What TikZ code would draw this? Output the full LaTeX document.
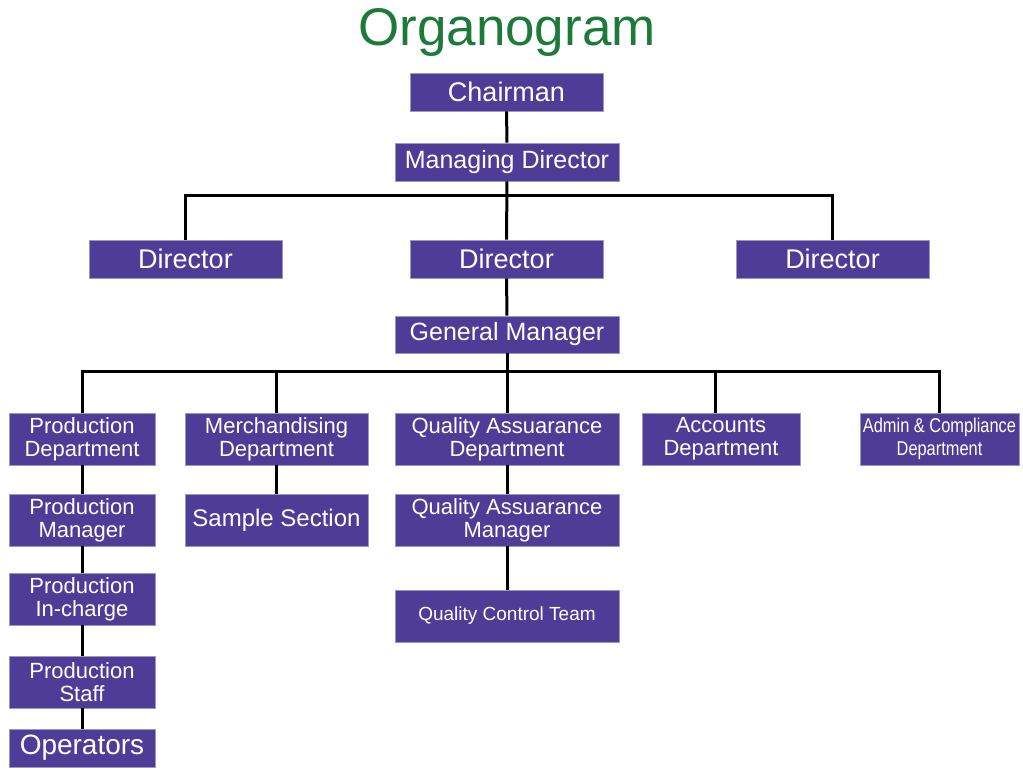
\documentclass[tikz,border=0pt]{standalone}
\usepackage{fontspec}
\setmainfont{Liberation Sans}
\newfontfamily\narrowfont[FakeStretch=0.82]{Liberation Sans}
\usepackage{xcolor}
\usetikzlibrary{positioning}
\definecolor{orgpurple}{RGB}{78,61,151}
\definecolor{orggreen}{RGB}{30,122,58}

\begin{document}
\begin{tikzpicture}[x=1pt, y=-1pt,
  box/.style={rectangle, draw=orgpurple!55!white, line width=0.8pt, fill=orgpurple,
              text=white, inner sep=0pt, align=center, minimum height=38pt,
              font=\fontsize{25}{26}\selectfont},
  dept/.style={box, minimum height=52pt, font=\fontsize{22}{23}\selectfont},
  link/.style={line width=3pt, black}
]
  \useasboundingbox (0,0) rectangle (1023,770);

  \node[font=\fontsize{53}{53}\selectfont, text=orggreen, anchor=base] (title) at (507,46) {Organogram};

  % top of the chart
  \node[box, minimum width=193pt, font=\fontsize{27}{28}\selectfont] (chair) at (506.5,92) {Chairman};
  \node[box, minimum width=224pt] (md) at (507,162) {Managing Director};
  \node[box, minimum width=193pt, font=\fontsize{27}{28}\selectfont] (dirL) at (185.5,259) {Director};
  \node[box, minimum width=193pt, font=\fontsize{27}{28}\selectfont] (dirM) at (506.5,259) {Director};
  \node[box, minimum width=193pt, font=\fontsize{27}{28}\selectfont] (dirR) at (832.5,259) {Director};
  \node[box, minimum width=224pt, minimum height=37pt] (gm) at (507,334.5) {General Manager};

  % departments
  \node[dept, minimum width=146pt] (prod) at (82,439) {Production\\Department};
  \node[dept, minimum width=183pt] (merch) at (276.5,439) {Merchandising\\Department};
  \node[dept, minimum width=224pt] (qad) at (507,439) {Quality Assuarance\\Department};
  \node[dept, minimum width=158pt] (acc) at (721,439) {Accounts\\Department};
  \node[dept, minimum width=159pt, font=\narrowfont\fontsize{20}{23}\selectfont] (adm) at (939.5,439) {Admin \& Compliance\\Department};

  % sections
  \node[dept, minimum width=146pt] (pm) at (82,520) {Production\\Manager};
  \node[dept, minimum width=183pt, font=\fontsize{24}{25}\selectfont] (sample) at (276.5,520) {Sample Section};
  \node[dept, minimum width=224pt] (qam) at (507,520) {Quality Assuarance\\Manager};
  \node[dept, minimum width=146pt] (pic) at (82,599) {Production\\In-charge};
  \node[dept, minimum width=224pt, font=\fontsize{19}{20}\selectfont] (qct) at (507,616) {Quality Control Team};
  \node[dept, minimum width=146pt] (pst) at (82,682) {Production\\Staff};
  \node[box, minimum width=146pt, font=\fontsize{28}{29}\selectfont] (ops) at (82,748) {Operators};

  \coordinate (bus1) at (507,196);
  \coordinate (bus2) at (507,371);

  \draw[link] (chair) -- (md);
  \draw[link] (md) -- (dirM);
  \draw[link] (dirL) |- (bus1) -| (dirR);
  \draw[link] (dirM) -- (gm);
  \draw[link] (gm) -- (qad);
  \draw[link] (prod) |- (bus2) -| (adm);
  \draw[link] (merch) -- (merch |- bus2);
  \draw[link] ([xshift=-6pt]acc.north) -- ([xshift=-6pt]acc.north |- bus2);

  \draw[link] (prod) -- (pm);
  \draw[link] (pm) -- (pic);
  \draw[link] (pic) -- (pst);
  \draw[link] (pst) -- (ops);
  \draw[link] (merch) -- (sample);
  \draw[link] (qad) -- (qam);
  \draw[link] (qam) -- (qct);
\end{tikzpicture}
\end{document}
